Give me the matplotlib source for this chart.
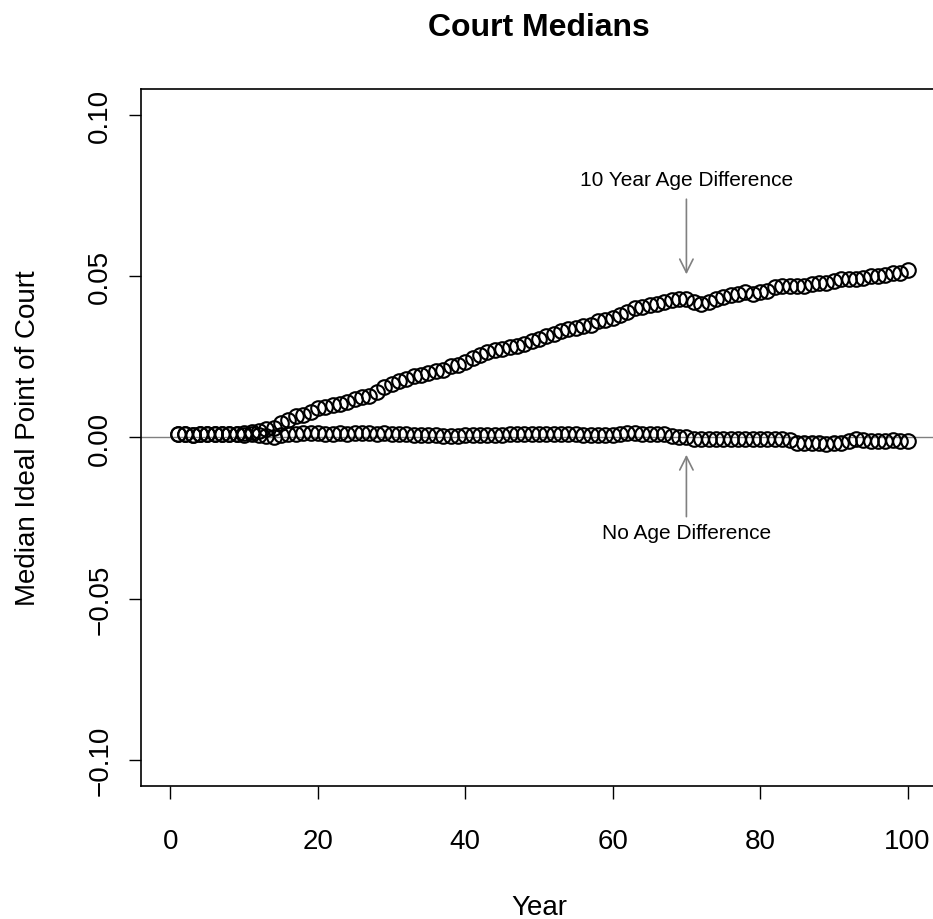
import matplotlib
matplotlib.use('Agg')
import matplotlib.pyplot as plt

plt.rcParams['font.family'] = ['Liberation Sans', 'DejaVu Sans']

years = list(range(1, 101))

# median ideal point, 10 year age difference
age_diff = [
    0.0010, 0.0010, 0.0008, 0.0012, 0.0010, 0.0012, 0.0010, 0.0012, 0.0012, 0.0015,
    0.0018, 0.0020, 0.0025, 0.0030, 0.0045, 0.0055, 0.0065, 0.0070, 0.0080, 0.0090,
    0.0095, 0.0100, 0.0105, 0.0110, 0.0120, 0.0125, 0.0130, 0.0140, 0.0155, 0.0165,
    0.0175, 0.0180, 0.0190, 0.0195, 0.0200, 0.0205, 0.0210, 0.0220, 0.0225, 0.0235,
    0.0245, 0.0255, 0.0265, 0.0270, 0.0275, 0.0280, 0.0285, 0.0290, 0.0300, 0.0305,
    0.0315, 0.0320, 0.0330, 0.0335, 0.0340, 0.0345, 0.0350, 0.0360, 0.0365, 0.0370,
    0.0380, 0.0390, 0.0400, 0.0405, 0.0410, 0.0415, 0.0420, 0.0425, 0.0430, 0.0430,
    0.0420, 0.0415, 0.0420, 0.0430, 0.0435, 0.0440, 0.0445, 0.0450, 0.0445, 0.0450,
    0.0455, 0.0465, 0.0470, 0.0470, 0.0470, 0.0470, 0.0475, 0.0480, 0.0480, 0.0485,
    0.0490, 0.0490, 0.0490, 0.0495, 0.0500, 0.0500, 0.0505, 0.0510, 0.0510, 0.0520,
]

# median ideal point, no age difference
no_diff = [
    0.0010, 0.0010, 0.0008, 0.0012, 0.0010, 0.0012, 0.0010, 0.0012, 0.0010, 0.0008,
    0.0010, 0.0008, 0.0005, 0.0002, 0.0008, 0.0012, 0.0012, 0.0013, 0.0013, 0.0013,
    0.0012, 0.0012, 0.0013, 0.0012, 0.0013, 0.0013, 0.0013, 0.0012, 0.0014, 0.0012,
    0.0010, 0.0010, 0.0008, 0.0008, 0.0007, 0.0007, 0.0006, 0.0005, 0.0006, 0.0007,
    0.0008, 0.0008, 0.0009, 0.0008, 0.0008, 0.0010, 0.0010, 0.0011, 0.0011, 0.0010,
    0.0010, 0.0010, 0.0011, 0.0010, 0.0010, 0.0009, 0.0009, 0.0008, 0.0008, 0.0009,
    0.0010, 0.0015, 0.0013, 0.0012, 0.0010, 0.0011, 0.0010, 0.0005, 0.0003, 0.0000,
    -0.0005, -0.0006, -0.0005, -0.0005, -0.0004, -0.0005, -0.0005, -0.0004, -0.0005, -0.0006,
    -0.0005, -0.0006, -0.0005, -0.0008, -0.0018, -0.0018, -0.0016, -0.0017, -0.0020, -0.0018,
    -0.0016, -0.0010, -0.0005, -0.0008, -0.0010, -0.0010, -0.0010, -0.0009, -0.0010, -0.0010,
]

fig = plt.figure(figsize=(9.33, 9.2), dpi=100)
ax = fig.add_axes([0.1511, 0.1446, 0.8532, 0.7576])

ax.axhline(0, color='gray', linewidth=1)
ax.plot(years, age_diff, 'o', markerfacecolor='none', markeredgecolor='black',
        markersize=10.5, markeredgewidth=1.5)
ax.plot(years, no_diff, 'o', markerfacecolor='none', markeredgecolor='black',
        markersize=10.5, markeredgewidth=1.5)

ax.set_xlim(-4, 104)
ax.set_ylim(-0.108, 0.108)
ax.set_xticks([0, 20, 40, 60, 80, 100])
ax.set_yticks([-0.10, -0.05, 0.00, 0.05, 0.10])
ax.set_yticklabels(['\u22120.10', '\u22120.05', '0.00', '0.05', '0.10'],
                   rotation=90, va='center')
ax.tick_params(axis='both', labelsize=20, length=9, width=1, direction='out')
ax.tick_params(axis='x', pad=21)
ax.tick_params(axis='y', pad=11)
for s in ax.spines.values():
    s.set_linewidth(1.2)

ax.set_xlabel('Year', fontsize=20, labelpad=29)
ax.set_ylabel('Median Ideal Point of Court', fontsize=20, labelpad=33)
ax.set_title('Court Medians', fontsize=23, fontweight='bold', pad=39)

ax.annotate('', xy=(70, 0.0497), xytext=(70, 0.0747),
            arrowprops=dict(arrowstyle='->', color='gray', lw=1.2,
                            mutation_scale=24))
ax.text(70, 0.0800, '10 Year Age Difference', ha='center', va='center', fontsize=15)
ax.annotate('', xy=(70, -0.0045), xytext=(70, -0.0254),
            arrowprops=dict(arrowstyle='->', color='gray', lw=1.2,
                            mutation_scale=24))
ax.text(70, -0.0295, 'No Age Difference', ha='center', va='center', fontsize=15)

fig.savefig('out.png', dpi=100)
